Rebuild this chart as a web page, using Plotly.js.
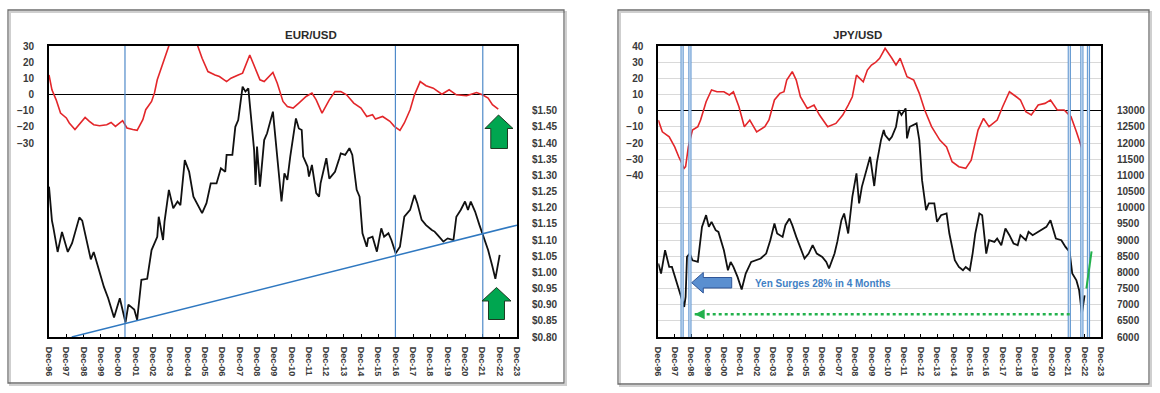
<!DOCTYPE html>
<html><head><meta charset="utf-8">
<script src="https://cdn.plot.ly/plotly-3.0.1.min.js"></script>
<style>html,body{margin:0;padding:0;background:#fff;}#chart{width:1160px;height:393px;}</style>
</head><body><div id="chart"></div>
<script>
// ---------------- DATA ----------------
const xTickVals = ['1996-12-01','1997-12-01','1998-12-01','1999-12-01','2000-12-01','2001-12-01','2002-12-01','2003-12-01','2004-12-01','2005-12-01','2006-12-01','2007-12-01','2008-12-01','2009-12-01','2010-12-01','2011-12-01','2012-12-01','2013-12-01','2014-12-01','2015-12-01','2016-12-01','2017-12-01','2018-12-01','2019-12-01','2020-12-01','2021-12-01','2022-12-01','2023-12-01'];
const xTickText = ['Dec-96','Dec-97','Dec-98','Dec-99','Dec-00','Dec-01','Dec-02','Dec-03','Dec-04','Dec-05','Dec-06','Dec-07','Dec-08','Dec-09','Dec-10','Dec-11','Dec-12','Dec-13','Dec-14','Dec-15','Dec-16','Dec-17','Dec-18','Dec-19','Dec-20','Dec-21','Dec-22','Dec-23'];

const eurPriceTicks = [0.80,0.85,0.90,0.95,1.00,1.05,1.10,1.15,1.20,1.25,1.30,1.35,1.40,1.45,1.50];
const eurPriceTickText = ['$0.80','$0.85','$0.90','$0.95','$1.00','$1.05','$1.10','$1.15','$1.20','$1.25','$1.30','$1.35','$1.40','$1.45','$1.50'];
const eurMomTicks = [-30,-20,-10,0,10,20,30];

const jpyPriceTicks = [6000,6500,7000,7500,8000,8500,9000,9500,10000,10500,11000,11500,12000,12500,13000];
const jpyPriceTickText = ['6000','6500','7000','7500','8000','8500','9000','9500','10000','10500','11000','11500','12000','12500','13000'];
const jpyMomTicks = [-40,-30,-20,-10,0,10,20,30,40];

// EUR/USD price (black, right axis)
const eurDates = ['1996-12','1997-02','1997-03','1997-06','1997-09','1998-01','1998-04','1998-09','1998-11','1999-05','1999-07','2000-02','2000-05','2000-09','2001-01','2001-03','2001-05','2001-07','2001-11','2002-01','2002-04','2002-08','2002-11','2003-03','2003-04','2003-07','2003-08','2003-11','2004-02','2004-05','2004-07','2004-10','2005-01','2005-04','2005-08','2005-10','2006-01','2006-04','2006-08','2006-11','2007-02','2007-03','2007-07','2007-09','2007-11','2008-02','2008-04','2008-06','2008-10','2008-11','2008-12','2009-02','2009-05','2009-07','2009-11','2010-01','2010-03','2010-05','2010-07','2010-09','2010-11','2011-03','2011-05','2011-07','2011-08','2011-11','2011-12','2012-02','2012-05','2012-07','2012-08','2012-12','2013-02','2013-06','2013-09','2013-10','2014-01','2014-04','2014-06','2014-09','2014-11','2015-01','2015-04','2015-05','2015-08','2015-11','2016-02','2016-04','2016-07','2016-09','2016-12','2017-03','2017-06','2017-10','2018-01','2018-03','2018-06','2018-09','2019-01','2019-03','2019-05','2019-09','2019-12','2020-04','2020-06','2020-09','2020-12','2021-02','2021-04','2021-07','2021-10','2021-12','2022-04','2022-07','2022-09','2022-12'];
const eurPrice = [1.265,1.16,1.14,1.063,1.125,1.063,1.09,1.17,1.16,1.04,1.063,0.955,0.92,0.86,0.92,0.88,0.845,0.90,0.885,0.853,0.977,0.98,1.069,1.110,1.172,1.100,1.157,1.255,1.198,1.219,1.208,1.347,1.311,1.234,1.203,1.183,1.214,1.275,1.275,1.322,1.311,1.363,1.363,1.450,1.471,1.574,1.559,1.569,1.378,1.270,1.389,1.265,1.409,1.430,1.497,1.409,1.327,1.219,1.306,1.286,1.358,1.476,1.445,1.440,1.358,1.327,1.296,1.332,1.245,1.234,1.275,1.353,1.29,1.311,1.353,1.368,1.363,1.384,1.363,1.255,1.234,1.121,1.079,1.105,1.110,1.064,1.136,1.110,1.121,1.100,1.059,1.079,1.172,1.193,1.239,1.214,1.162,1.146,1.131,1.126,1.116,1.095,1.105,1.100,1.172,1.193,1.219,1.193,1.219,1.188,1.146,1.121,1.069,1.018,0.98,1.054];

// EUR/USD momentum (red, left axis)
const eurMomDates = ['1996-12','1997-02','1997-05','1997-08','1997-12','1998-02','1998-06','1998-09','1999-01','1999-04','1999-07','1999-11','2000-04','2000-07','2000-10','2001-03','2001-06','2001-10','2002-01','2002-05','2002-07','2002-11','2003-01','2003-03','2003-07','2003-09','2003-11','2004-02','2004-07','2004-12','2005-04','2005-07','2005-10','2006-02','2006-07','2006-10','2007-03','2007-06','2007-11','2008-02','2008-07','2008-10','2009-02','2009-05','2009-11','2010-02','2010-06','2010-09','2011-01','2011-05','2011-10','2012-02','2012-05','2012-09','2013-02','2013-06','2013-10','2014-02','2014-07','2014-12','2015-04','2015-08','2015-10','2016-03','2016-08','2016-11','2017-03','2017-06','2017-10','2018-01','2018-05','2018-09','2019-02','2019-08','2020-01','2020-06','2021-01','2021-08','2021-12','2022-04','2022-07','2022-11'];
const eurMom = [12.1,2.9,-3.3,-11.5,-14.5,-17.6,-21.7,-18.7,-14.2,-16.6,-18.7,-19.3,-18.7,-17.3,-19.7,-16.2,-20.7,-21.7,-22.2,-15.6,-9.4,-4.3,0.9,9.1,19.3,24.4,30.5,38,42,40,36,30,22.4,14.2,12.1,11.1,8.0,10.1,12.1,13.2,24.4,18.3,9.1,8.0,13.6,7.0,-4.3,-7.4,-8.4,-5.3,-1.2,0.9,-3.3,-11.5,-3.3,1.8,1.8,-0.2,-5.3,-8.4,-13.6,-12.5,-15.2,-13.6,-16.6,-19.7,-22.2,-17.6,-9.4,-0.2,8.0,5.4,3.9,0.2,2.9,-0.2,-0.8,1.2,-0.2,-2.2,-6.3,-9.0];

// JPY/USD price (black, right axis)
const jpyDates = ['1996-12','1997-02','1997-05','1997-08','1997-10','1998-01','1998-03','1998-07','1998-08','1998-09','1998-11','1999-01','1999-05','1999-08','1999-11','2000-01','2000-03','2000-06','2000-08','2000-12','2001-03','2001-05','2001-07','2001-10','2002-01','2002-04','2002-08','2002-12','2003-03','2003-07','2003-10','2004-01','2004-03','2004-07','2004-09','2004-12','2005-02','2005-05','2005-08','2005-11','2006-02','2006-05','2006-08','2006-12','2007-03','2007-05','2007-09','2007-11','2008-02','2008-04','2008-07','2008-10','2009-01','2009-03','2009-05','2009-09','2009-11','2010-02','2010-04','2010-07','2010-09','2010-10','2011-01','2011-03','2011-06','2011-08','2011-10','2012-01','2012-02','2012-04','2012-07','2012-09','2012-11','2013-01','2013-04','2013-06','2013-10','2013-12','2014-03','2014-07','2014-09','2015-01','2015-04','2015-07','2015-09','2015-12','2016-02','2016-04','2016-07','2016-09','2016-12','2017-02','2017-06','2017-08','2017-11','2018-02','2018-05','2018-08','2018-11','2019-01','2019-05','2019-07','2019-10','2020-02','2020-05','2020-08','2020-11','2021-03','2021-07','2021-10','2022-01','2022-03','2022-06','2022-08','2022-10','2022-12'];
const jpyPrice = [8273,7963,8684,8167,8167,7755,7548,6929,7238,8477,8581,8374,8322,9406,9768,9406,9561,9303,9251,8684,8065,8322,8167,7858,7467,7963,8322,8374,8427,8581,8994,9510,9201,9096,9458,9665,9458,9096,8787,8427,8581,8839,8581,8477,8322,8118,8581,8942,9613,9820,9201,10334,11059,10130,10644,11263,11573,10670,11400,12090,12400,12245,12090,12192,12502,13018,12864,13070,12143,12502,12554,12607,12090,10851,9923,10130,10130,9561,9768,9820,9201,8374,8167,8065,8167,8065,8581,9201,9820,9768,8581,8994,8942,9046,8839,9355,9149,8891,8839,9149,8994,9251,9149,9251,9303,9406,9613,9046,8994,8787,8632,7963,7755,7445,6723,7290];

// JPY/USD momentum (red, left axis)
const jpyMomDates = ['1996-12','1997-03','1997-08','1997-12','1998-03','1998-07','1998-08','1998-10','1999-01','1999-05','1999-07','1999-11','2000-03','2000-07','2000-12','2001-04','2001-07','2001-11','2002-03','2002-07','2002-12','2003-06','2003-09','2004-01','2004-05','2004-08','2004-10','2005-02','2005-05','2005-08','2006-01','2006-06','2006-10','2007-04','2007-10','2008-03','2008-07','2008-10','2009-01','2009-06','2009-09','2009-12','2010-03','2010-06','2010-08','2010-10','2011-03','2011-06','2011-09','2012-02','2012-07','2012-11','2013-03','2013-08','2014-02','2014-07','2014-11','2015-04','2015-09','2016-01','2016-06','2016-10','2017-02','2017-08','2017-12','2018-05','2018-10','2019-01','2019-05','2019-09','2020-02','2020-07','2020-11','2021-04','2021-09','2022-02','2022-06','2022-10'];
const jpyMom = [-5.8,-13.1,-16.2,-22.4,-28.5,-35.7,-34.7,-22.4,-12.0,-9.9,-5.8,5.5,12.8,11.7,11.7,9.7,11.7,2.4,-9.9,-5.8,-13.1,-9.9,-5.8,6.6,10.7,11.7,18.9,24.1,18.9,8.6,1.4,3.5,-2.7,-9.9,-7.9,-2.7,3.5,8.6,22.0,17.9,25.1,28.2,29.8,32.4,35.5,38.6,32.4,28.2,32.4,21.0,18.9,10.7,0.4,-9.9,-18.2,-22.4,-31.6,-34.7,-35.7,-30.6,-12.0,-4.8,-9.9,-5.8,2.4,11.7,8.6,6.6,-0.7,-2.7,3.5,4.5,6.6,0.4,0.4,-3.8,-13.1,-23.3];

// Reference markers
const eurVLines = ['2001-04-20','2016-11-25','2021-12-10'];
const eurTrend = {x: ['1998-03-25','2023-12-01'], y: [0.80, 1.146]};
const jpyVLines = ['1998-05-15','1998-11-05','2021-12-25','2022-10-01','2023-02-25'];
const jpyLowLine = {x: ['1999-02-20','2022-01-08'], y: 6700};
const jpyRebound = {x: ['2023-01-10','2023-05-05'], y: [7500, 8650]};

// ---------------- CHART ----------------
const W = 1160, H = 393;
const px = x => x / W;
const py = y => 1 - y / H;
const FONT = 'Liberation Sans, Arial, sans-serif';
const TICKCOL = '#3a3a3a';
const yDom = [py(337), py(46)];

function pathFrom(pts){ return 'M ' + pts.map(p => px(p[0]).toFixed(5) + ',' + py(p[1]).toFixed(5)).join(' L ') + ' Z'; }
function upArrow(tipX, tipY, x0, x1, baseY, s0, s1, bot){
  return pathFrom([[tipX,tipY],[x1,baseY],[s1,baseY],[s1,bot],[s0,bot],[s0,baseY],[x0,baseY]]);
}
function leftArrow(tipX, tipY, baseX, h0, h1, s0, s1, endX){
  return pathFrom([[tipX,tipY],[baseX,h0],[baseX,s0],[endX,s0],[endX,s1],[baseX,s1],[baseX,h1]]);
}

const traces = [
  {x: eurMomDates, y: eurMom, xaxis:'x', yaxis:'y2', mode:'lines', line:{color:'#e3262a', width:1.6}, hoverinfo:'skip'},
  {x: eurDates, y: eurPrice, xaxis:'x', yaxis:'y', mode:'lines', line:{color:'#111111', width:1.8}, hoverinfo:'skip'},
  {x: jpyMomDates, y: jpyMom, xaxis:'x2', yaxis:'y4', mode:'lines', line:{color:'#e3262a', width:1.6}, hoverinfo:'skip'},
  {x: jpyDates, y: jpyPrice, xaxis:'x2', yaxis:'y3', mode:'lines', line:{color:'#111111', width:1.8}, hoverinfo:'skip'}
];

const xCommon = {
  type:'date', range:['1996-12-01','2023-12-01'], tickmode:'array', tickvals:xTickVals, ticktext:xTickText,
  tickangle:90, tickfont:{size:9, family:FONT, color:TICKCOL, weight:'bold'}, ticks:'inside', ticklen:3, tickcolor:'#000',
  showline:true, linecolor:'#000', linewidth:2, mirror:true, showgrid:false, zeroline:false, ticklabelstandoff:6
};
const yLabelFont = {size:10, family:FONT, color:TICKCOL, weight:'bold'};

const shapes = [];
// outer frames with shadow
[[8,10,564,383],[618,10,1149,384]].forEach(r => {
  shapes.push({type:'rect', xref:'paper', yref:'paper', x0:px(r[0]+2), x1:px(r[2]+2), y0:py(r[3]+2), y1:py(r[1]+2), line:{color:'#cfcfcf', width:2}, layer:'below'});
  shapes.push({type:'rect', xref:'paper', yref:'paper', x0:px(r[0]), x1:px(r[2]), y0:py(r[3]), y1:py(r[1]), line:{color:'#6e6e6e', width:1.3}, fillcolor:'rgba(0,0,0,0)', layer:'below'});
});
// EUR vertical lines
eurVLines.forEach(d => shapes.push({type:'line', xref:'x', yref:'y domain', x0:d, x1:d, y0:0, y1:1, line:{color:'#4f8ac9', width:1.2}, layer:'above'}));
// EUR trend line
shapes.push({type:'line', xref:'x', yref:'y', x0:eurTrend.x[0], x1:eurTrend.x[1], y0:eurTrend.y[0], y1:eurTrend.y[1], line:{color:'#2f78c0', width:1.5}});
// JPY vertical double lines
jpyVLines.forEach(d => {
  shapes.push({type:'line', xref:'x2', yref:'y3 domain', x0:d, x1:d, y0:0, y1:1, line:{color:'#5b93cf', width:3.2}, layer:'above'});
  shapes.push({type:'line', xref:'x2', yref:'y3 domain', x0:d, x1:d, y0:0, y1:1, line:{color:'#d6e5f5', width:1.2}, layer:'above'});
});
// JPY green dotted low line
shapes.push({type:'line', xref:'x2', yref:'y3', x0:jpyLowLine.x[0], x1:jpyLowLine.x[1], y0:jpyLowLine.y, y1:jpyLowLine.y, line:{color:'#22b14c', width:2.5, dash:'dot'}});
// JPY green rebound line
shapes.push({type:'line', xref:'x2', yref:'y3', x0:jpyRebound.x[0], x1:jpyRebound.x[1], y0:jpyRebound.y[0], y1:jpyRebound.y[1], line:{color:'#22b14c', width:2}});
// Green up arrows (EUR)
shapes.push({type:'path', xref:'paper', yref:'paper', path:upArrow(498.5,115,485,513,128.5,490.8,507.5,148.5), fillcolor:'#00a650', line:{color:'#1e3a22', width:1}});
shapes.push({type:'path', xref:'paper', yref:'paper', path:upArrow(496.5,287.5,482,511,301,488.5,504.5,319.5), fillcolor:'#00a650', line:{color:'#1e3a22', width:1}});
// Blue left arrow (JPY)
shapes.push({type:'path', xref:'paper', yref:'paper', path:leftArrow(691.7,282.7,703.3,272.5,293,277.5,288,731.7), fillcolor:'#5a8fd0', line:{color:'#2f5597', width:1}});

const annotations = [
  {xref:'paper', yref:'paper', x:px(283), y:py(27), text:'<b>EUR/USD</b>', showarrow:false, font:{size:11.5, family:FONT, color:'#2b2b2b'}},
  {xref:'paper', yref:'paper', x:px(884), y:py(27), text:'<b>JPY/USD</b>', showarrow:false, font:{size:11.5, family:FONT, color:'#2b2b2b'}},
  {xref:'paper', yref:'paper', x:px(753), y:py(283), xanchor:'left', yanchor:'middle', text:'<b>Yen Surges 28% in 4 Months</b>', showarrow:false, font:{size:10, family:FONT, color:'#3f7fc4'}},
  {xref:'x2', yref:'y3', x:jpyLowLine.x[0], y:jpyLowLine.y, ax:9, ay:0, text:'', showarrow:true, arrowhead:2, arrowsize:1, arrowwidth:2, arrowcolor:'#22b14c'}
];

const layout = {
  width:W, height:H, margin:{l:0,r:0,t:0,b:0}, paper_bgcolor:'#fff', plot_bgcolor:'#fff', showlegend:false,
  font:{family:FONT, color:TICKCOL},
  xaxis: Object.assign({}, xCommon, {domain:[px(49), px(517)], anchor:'y'}),
  yaxis: {domain:yDom, anchor:'x', side:'right', range:[0.80,1.70], tickmode:'array', tickvals:eurPriceTicks, ticktext:eurPriceTickText,
          tickfont:yLabelFont, showgrid:false, zeroline:false, showline:true, linecolor:'#000', linewidth:2, ticks:'', ticklabelstandoff:11},
  yaxis2:{overlaying:'y', anchor:'x', side:'left', range:[-150,30], tickmode:'array', tickvals:eurMomTicks,
          tickfont:yLabelFont, showgrid:false, zeroline:true, zerolinecolor:'#000', zerolinewidth:1.5, showline:true, linecolor:'#000', linewidth:2, ticks:'', ticklabelstandoff:11},
  xaxis2: Object.assign({}, xCommon, {domain:[px(658.3), px(1101)], anchor:'y3'}),
  yaxis3:{domain:yDom, anchor:'x2', side:'right', range:[6000,15000], tickmode:'array', tickvals:jpyPriceTicks, ticktext:jpyPriceTickText,
          tickfont:yLabelFont, showgrid:true, gridcolor:'#d9d9d9', gridwidth:1, zeroline:false, showline:true, linecolor:'#000', linewidth:2, ticks:'', ticklabelstandoff:12},
  yaxis4:{overlaying:'y3', anchor:'x2', side:'left', range:[-140,40], tickmode:'array', tickvals:jpyMomTicks,
          tickfont:yLabelFont, showgrid:true, gridcolor:'#d9d9d9', gridwidth:1, zeroline:true, zerolinecolor:'#000', zerolinewidth:1.5, showline:true, linecolor:'#000', linewidth:2, ticks:'', ticklabelstandoff:11},
  shapes: shapes,
  annotations: annotations
};

Plotly.newPlot('chart', traces, layout, {staticPlot:true, displayModeBar:false});
</script></body></html>
